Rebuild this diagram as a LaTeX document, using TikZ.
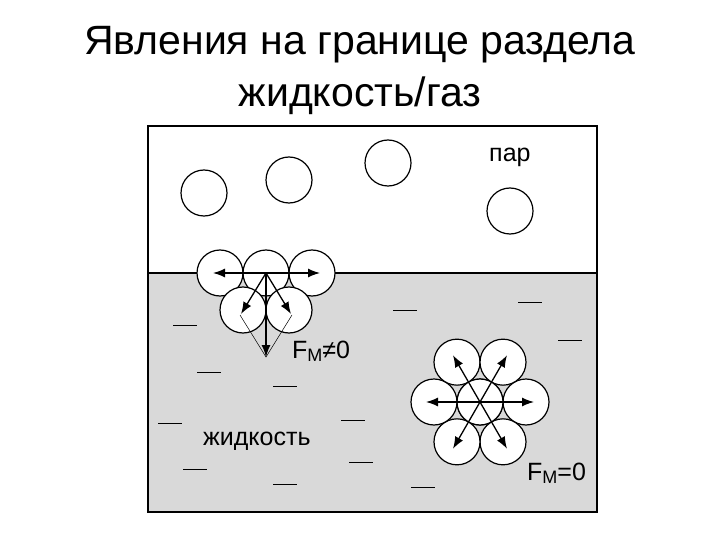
\documentclass[tikz,border=0pt]{standalone}
\usepackage{fontspec}
\setmainfont{Liberation Sans}
\usetikzlibrary{arrows.meta,calc}
\begin{document}
\begin{tikzpicture}[x=1pt,y=-1pt,
  mol/.style={circle,draw,fill=white,line width=1.2pt,minimum size=46pt,inner sep=0pt},
  force/.style={line width=1.3pt,-{Latex[length=12pt,width=9pt]}},
  dashmark/.style={line width=1pt},
  lbl/.style={font=\fontsize{25}{28}\selectfont,inner sep=0pt}]
\useasboundingbox (0,0) rectangle (720,540);
\fill[white] (0,0) rectangle (720,540);
\node[font=\fontsize{41}{52}\selectfont,align=center] (title) at (360,70) {Явления на границе раздела\\жидкость/газ};
\fill[gray!30] (148,273) rectangle (597,512);
\draw[line width=1.2pt] (148,126) rectangle (597,512);
\draw[line width=1.2pt] (148,273) -- (597,273);
% gas
\foreach \n/\x/\y in {g1/204/193,g2/289/180,g3/388/163,g4/510/211}
  \node[mol] (\n) at (\x,\y) {};
\node[lbl,anchor=west] (par) at (489,157) {пар};
% left cluster
\node[mol] (a1) at (220,273) {};
\node[mol] (a2) at (266,273) {};
\node[mol] (a3) at (312,273) {};
\node[mol] (b1) at (243,310) {};
\node[mol] (b2) at (289,310) {};
\coordinate (ac) at (266,273);
\coordinate (ad) at (266,357);
\draw[force] (ac) -- (213,273);
\draw[force] (ac) -- (320,273);
\draw[force] (ac) -- (241,314);
\draw[force] (ac) -- (291,314);
\draw[force] (ac) -- (ad);
\draw[line width=0.5pt] (240,315) -- (ad) -- (292,315);
\node[lbl,anchor=west] (fn) at (292,351) {F\raisebox{-0.25ex}{\fontsize{18}{20}\selectfont М}≠0};
% right cluster
\node[mol] (c0) at (480,402) {};
\foreach \n/\a in {c1/0,c2/60,c3/120,c4/180,c5/240,c6/300}
  \node[mol] (\n) at ($(c0)+(\a:46)$) {};
\node[mol] (c0b) at (480,402) {};
\foreach \a in {0,60,...,300}
  \draw[force] (c0b.center) -- ++(\a:54);
\node[lbl,anchor=west] (fe) at (527,473) {F\raisebox{-0.25ex}{\fontsize{18}{20}\selectfont М}=0};
\node[lbl,anchor=west] (liq) at (203,441) {жидкость};
% dashes
\foreach \x/\y in {185/325,405/310,530/302,570/340,209/372,285/386,170/423,353/420,195/469,361/462,285/484,423/487}
  \draw[dashmark] (\x-12,\y) -- (\x+12,\y);
\end{tikzpicture}
\end{document}
